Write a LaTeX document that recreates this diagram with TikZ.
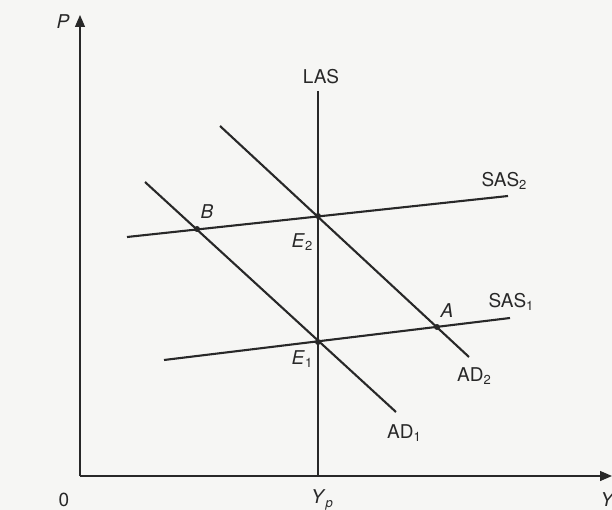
\documentclass[tikz,border=0pt]{standalone}
\usepackage{fontspec}
\setmainfont{TeX Gyre Heros}
\usetikzlibrary{arrows.meta}
\definecolor{paper}{RGB}{246,246,244}
\definecolor{ink}{RGB}{40,40,40}
\newcommand{\lowidx}[1]{\raisebox{-0.35ex}{\fontsize{13}{15}\selectfont #1}}
\begin{document}
\begin{tikzpicture}[x=1pt,y=-1pt,
  axis/.style={draw=ink,line width=1.3pt,-{Triangle[length=12pt,width=10pt]}},
  curve/.style={draw=ink,line width=2.1pt},
  lasline/.style={draw=ink,line width=2.8pt},
  lbl/.style={text=ink,font=\fontsize{19}{22}\selectfont,inner sep=0pt},
  dot/.style={circle,fill=ink,inner sep=0pt,minimum size=6pt}]
\fill[paper] (0,0) rectangle (612,510);
\useasboundingbox (0,0) rectangle (612,510);
% axes
\coordinate (O) at (80,476);
\coordinate (Ptop) at (80,15);
\coordinate (Yend) at (612,476);
\draw[axis] (O) -- (Ptop);
\draw[axis] (O) -- (Yend);
% LAS
\coordinate (LAStop) at (318,91);
\coordinate (LASbot) at (318,476);
\draw[lasline] (LAStop) -- (LASbot);
% SAS2
\coordinate (S2a) at (127,237);
\coordinate (S2b) at (508,196);
\draw[curve] (S2a) -- (S2b);
% SAS1
\coordinate (S1a) at (164,360);
\coordinate (S1b) at (510,318);
\draw[curve] (S1a) -- (S1b);
% AD2
\coordinate (D2a) at (220,126);
\coordinate (D2b) at (469,357);
\draw[curve] (D2a) -- (D2b);
% AD1
\coordinate (D1a) at (145,182);
\coordinate (D1b) at (396,412);
\draw[curve] (D1a) -- (D1b);
% points
\node[dot] (E2) at (318,216) {};
\node[dot] (E1) at (318,342) {};
\node[dot] (A) at (437,327) {};
\node[dot] (B) at (197,229) {};
% labels
\node[lbl] (Plbl) at (63,22) {\textit{P}};
\node[lbl] (Ylbl) at (608,500) {\textit{Y}};
\node[lbl] (Olbl) at (64,500) {0};
\node[lbl] (Yplbl) at (322,500) {\textit{Y}\lowidx{\textit{p}}};
\node[lbl] (LASlbl) at (321,77) {LAS};
\node[lbl] (SAS2lbl) at (504,181) {SAS\lowidx{2}};
\node[lbl] (SAS1lbl) at (511,302) {SAS\lowidx{1}};
\node[lbl] (AD2lbl) at (474,376) {AD\lowidx{2}};
\node[lbl] (AD1lbl) at (404,433) {AD\lowidx{1}};
\node[lbl] (Alabel) at (447,311) {\textit{A}};
\node[lbl] (Blabel) at (207,212) {\textit{B}};
\node[lbl] (E2lbl) at (302,242) {\textit{E}\lowidx{2}};
\node[lbl] (E1lbl) at (302,359) {\textit{E}\lowidx{1}};
\end{tikzpicture}
\end{document}
